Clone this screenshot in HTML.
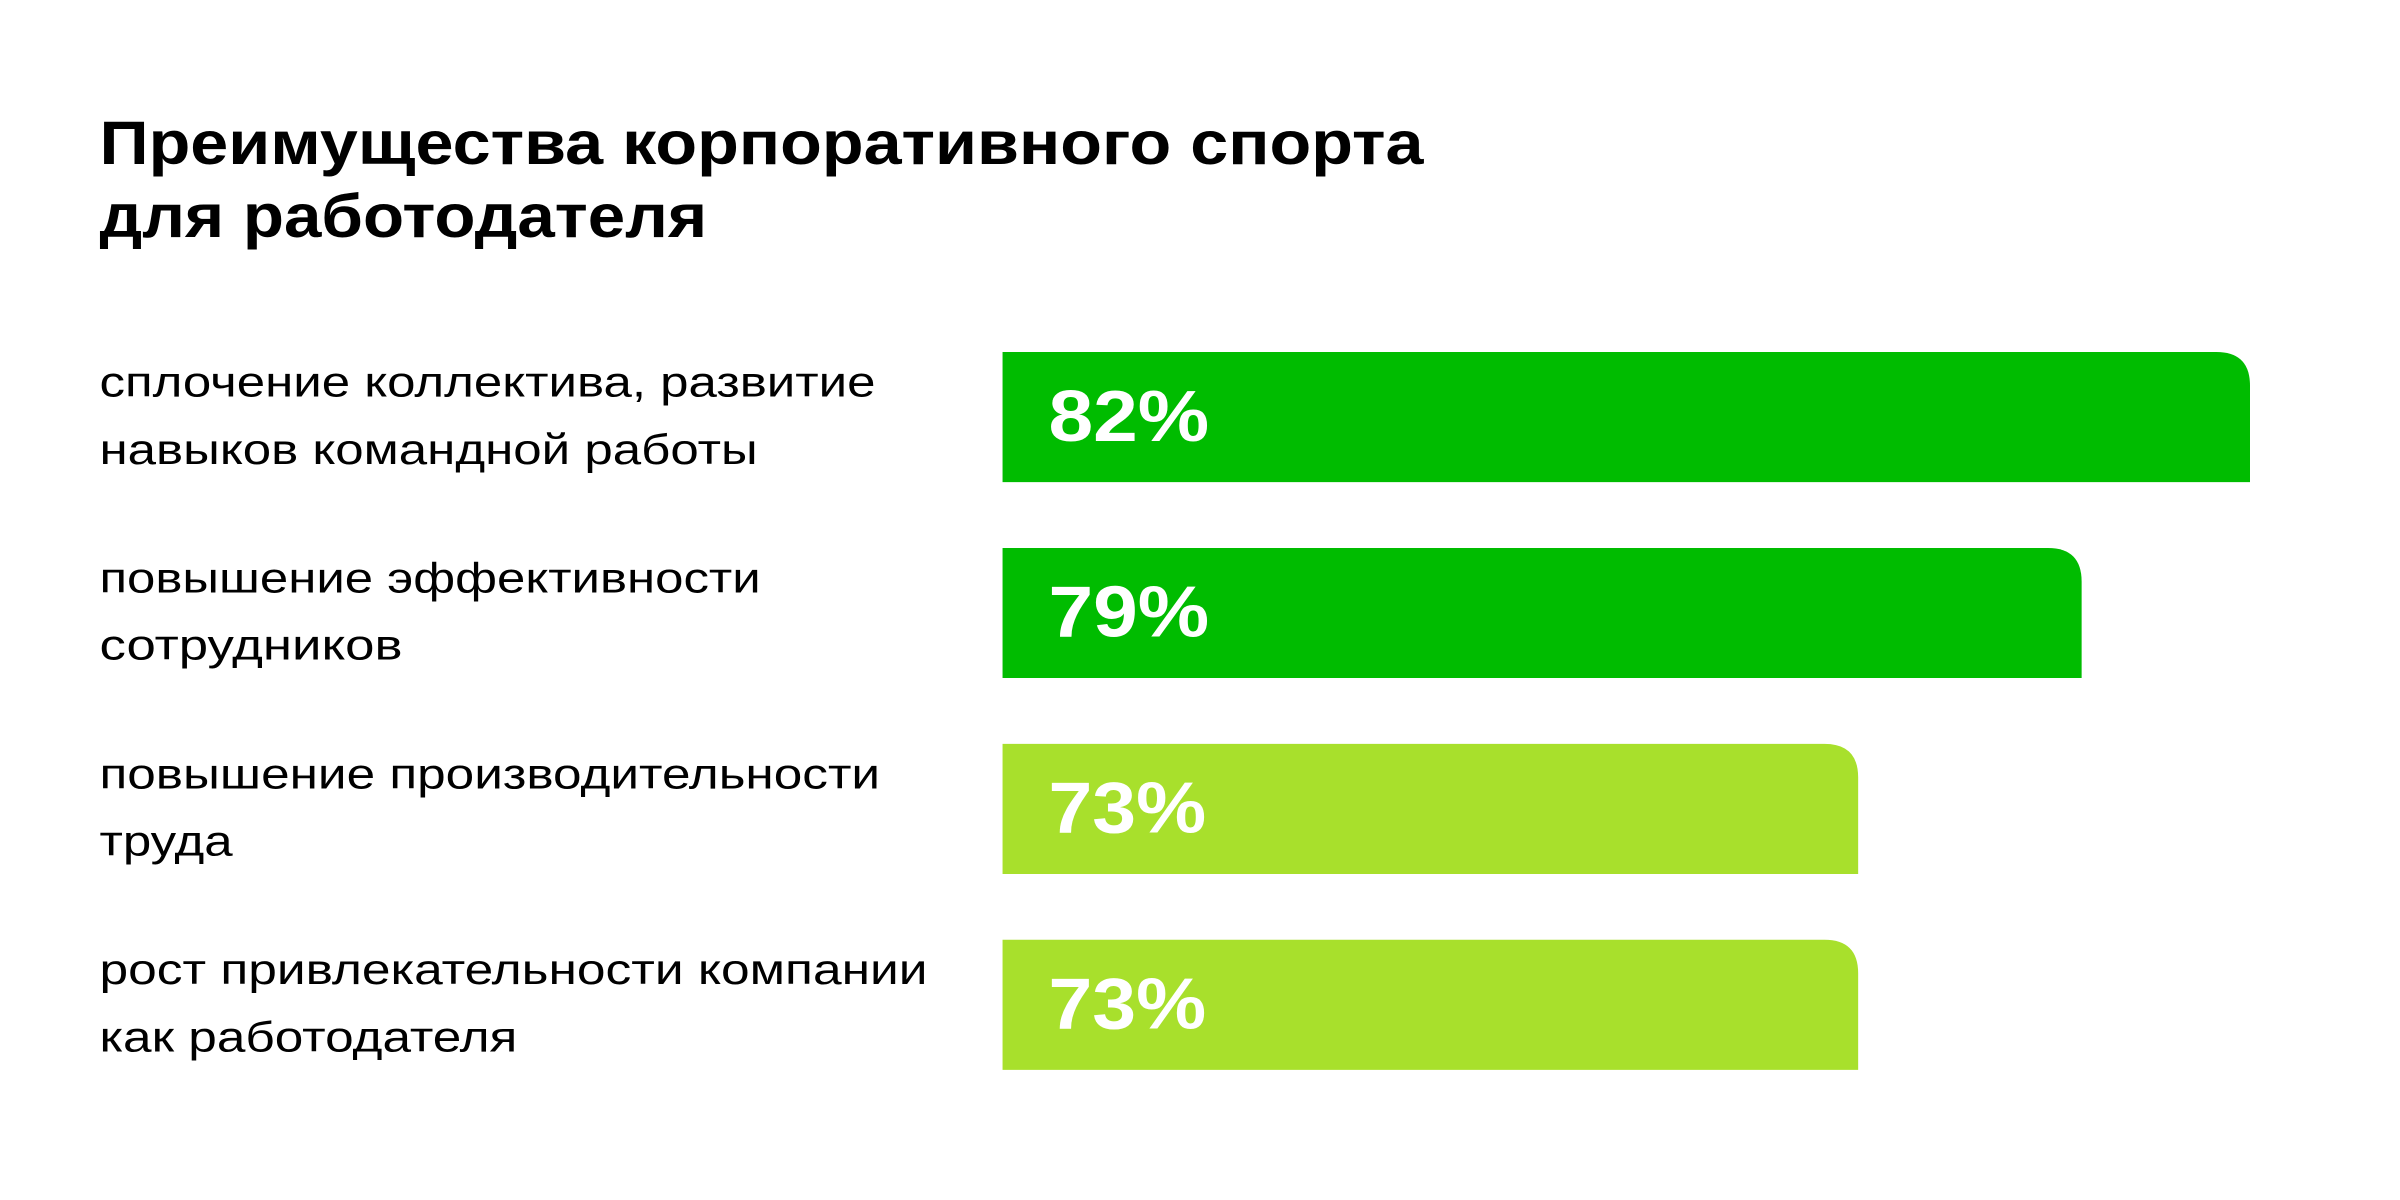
<!DOCTYPE html>
<html><head><meta charset="utf-8"><style>
html,body{margin:0;padding:0;background:#fff;}
svg{display:block;}
</style></head><body>
<svg width="2400" height="1200" viewBox="0 0 1568 784" xmlns="http://www.w3.org/2000/svg">
<rect width="1568" height="784" fill="#fff"/>
<g font-family="'Liberation Sans', 'DejaVu Sans', sans-serif" fill="#000">
<text x="65" y="107" font-size="40" font-weight="bold" textLength="865" lengthAdjust="spacingAndGlyphs">Преимущества корпоративного спорта</text>
<text x="65" y="155" font-size="40" font-weight="bold" textLength="397" lengthAdjust="spacingAndGlyphs">для работодателя</text>

<g font-size="28">
<text x="65" y="259" textLength="507" lengthAdjust="spacingAndGlyphs">сплочение коллектива, развитие</text>
<text x="65" y="303" textLength="430" lengthAdjust="spacingAndGlyphs">навыков командной работы</text>
<text x="65" y="387" textLength="432" lengthAdjust="spacingAndGlyphs">повышение эффективности</text>
<text x="65" y="431" textLength="198" lengthAdjust="spacingAndGlyphs">сотрудников</text>
<text x="65" y="515" textLength="510" lengthAdjust="spacingAndGlyphs">повышение производительности</text>
<text x="65" y="559" textLength="87" lengthAdjust="spacingAndGlyphs">труда</text>
<text x="65" y="643" textLength="541" lengthAdjust="spacingAndGlyphs">рост привлекательности компании</text>
<text x="65" y="687" textLength="273" lengthAdjust="spacingAndGlyphs">как работодателя</text>
</g>
</g>

<path d="M655 230 H1448 Q1470 230 1470 252 V315 H655 Z" fill="#00BC00"/>
<path d="M655 358 H1338 Q1360 358 1360 380 V443 H655 Z" fill="#00BC00"/>
<path d="M655 486 H1192 Q1214 486 1214 508 V571 H655 Z" fill="#A8E02C"/>
<path d="M655 614 H1192 Q1214 614 1214 636 V699 H655 Z" fill="#A8E02C"/>

<g font-family="'Liberation Sans', sans-serif" font-weight="bold" font-size="47" fill="#fff">
<text x="685" y="288" textLength="105" lengthAdjust="spacingAndGlyphs">82%</text>
<text x="685" y="416" textLength="105" lengthAdjust="spacingAndGlyphs">79%</text>
<text x="685" y="544" textLength="103" lengthAdjust="spacingAndGlyphs">73%</text>
<text x="685" y="672" textLength="103" lengthAdjust="spacingAndGlyphs">73%</text>
</g>
</svg>
</body></html>
